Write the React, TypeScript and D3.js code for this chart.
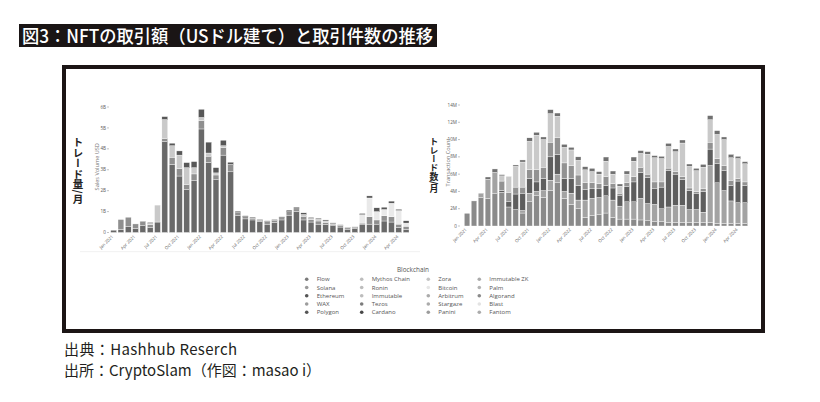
import React from "react";
import * as d3 from "d3";

// ---------- categories ----------
const MONTHS = [
  "2021-01","2021-02","2021-03","2021-04","2021-05","2021-06","2021-07","2021-08","2021-09","2021-10","2021-11","2021-12",
  "2022-01","2022-02","2022-03","2022-04","2022-05","2022-06","2022-07","2022-08","2022-09","2022-10","2022-11","2022-12",
  "2023-01","2023-02","2023-03","2023-04","2023-05","2023-06","2023-07","2023-08","2023-09","2023-10","2023-11","2023-12",
  "2024-01","2024-02","2024-03","2024-04","2024-05",
];
const X_TICKS = ["2021-01","2021-04","2021-07","2021-10","2022-01","2022-04","2022-07","2022-10","2023-01","2023-04","2023-07","2023-10","2024-01","2024-04"];
const X_TICK_LABELS = ["Jan 2021","Apr 2021","Jul 2021","Oct 2021","Jan 2022","Apr 2022","Jul 2022","Oct 2022","Jan 2023","Apr 2023","Jul 2023","Oct 2023","Jan 2024","Apr 2024"];

// ---------- left: sales volume (units of 100M USD) ----------
const VOL_TICKS = [0, 10, 20, 30, 40, 50, 60];
const VOL_KEYS = ["Ethereum", "Flow", "Ronin", "Bitcoin", "Polygon"];
const VOL_COLORS = ["#696969", "#8f8f8f", "#c9c9c9", "#e9e9e9", "#575757"];
const VOL_ETHEREUM = [1.1,1.5,3.0,2.0,3.5,2.3,5.0,43.5,32.5,27.0,20.5,25.0,49.5,33.5,25.2,37.0,29.0,8.0,6.5,6.0,5.2,4.0,4.8,6.0,8.3,10.0,6.0,5.0,4.0,3.8,3.2,2.6,1.6,1.8,4.0,4.0,4.0,5.5,5.0,2.5,1.5];
const VOL_FLOW = [0,4.7,4.3,2.1,1.9,1.5,0,1.5,3.5,3.5,2.5,3.0,4.0,3.0,2.3,3.5,3.5,1.5,1.0,0.8,0.6,1.2,1.0,1.0,1.6,1.3,1.8,1.2,1.5,1.0,0.8,0.6,0.6,0.6,0.5,3.5,2.0,2.5,2.5,1.5,1.5];
const VOL_RONIN = [0,0,0,0,0,0.5,8.1,9.0,5.5,6.5,8.0,3.0,1.5,1.5,1.0,1.0,0,0,0,0,0,0,0,0,0,0,0.8,0.5,0.8,0.7,0.2,0.2,0,0,0,0,0,0,0,0,0];
const VOL_BITCOIN = [0,0,0,0,0,0,0,0,0,0,0,0,0,0,0,0,0,0,0,0,0,0,0,0,0,0,0,0,0,0,0,0,0,0,4.0,9.0,4.0,3.0,6.5,6.5,1.5];
const VOL_POLYGON = [0,0,0,0,0,0.5,0,1.4,1.2,2.0,2.4,2.9,3.9,5.2,2.5,2.6,1.1,0.7,0.5,0.5,0.4,0.4,0.4,0.5,0.8,0.8,0.8,0.5,0.5,0.5,0.4,0.3,0.3,0.3,0.6,1.0,1.8,1.1,1.0,0.6,1.1];
const VOL_DATA = [VOL_ETHEREUM, VOL_FLOW, VOL_RONIN, VOL_BITCOIN, VOL_POLYGON];

// ---------- right: transaction count (millions) ----------
const TX_TICKS = [0, 2, 4, 6, 8, 10, 12, 14];
const TX_KEYS = ["WAX", "Immutable", "Polygon", "Solana", "Ronin", "Ethereum"];
const TX_COLORS = ["#8a8a8a", "#a3a3a3", "#5e5e5e", "#929292", "#c9c9c9", "#707070"];
const TX_WAX = [1.47,2.9,3.3,3.2,3.8,3.9,2.2,1.9,1.5,2.8,3.5,3.3,4.1,5.0,3.2,2.5,2.0,1.0,1.2,1.3,1.5,1.0,0.8,0.8,0.8,0.7,0.6,0.5,0.5,0.4,0.4,0.4,0.4,0.4,0.4,0.4,0.3,0.3,0.3,0.3,0.3];
const TX_IMMUTABLE = [0,0,0.5,2.2,2.4,0,0,0,0.3,1.0,0.5,0.8,1.2,1.0,0.8,1.3,1.0,2.0,2.0,2.0,2.0,2.0,1.5,2.0,2.0,2.5,2.0,2.0,1.5,1.8,2.0,2.0,1.5,1.5,1.2,6.6,4.7,3.8,2.6,2.4,2.4];
const TX_POLYGON = [0,0,0,0,0,0.2,0.6,1.8,2.0,1.7,1.1,1.4,2.7,2.3,1.5,1.7,1.7,1.2,1.1,1.0,1.2,1.4,1.2,1.8,2.3,3.0,3.0,1.8,2.5,4.2,3.6,3.0,2.2,1.9,2.4,1.9,2.2,2.3,1.8,2.5,2.0];
const TX_SOLANA = [0,0,0,0,0,1.1,1.1,0.8,0.7,1.0,1.4,1.3,1.7,1.9,1.8,1.5,1.2,0.8,0.7,0.6,1.0,0.5,0.3,0.4,0.6,0.6,0.4,0.8,0.6,0.3,0.3,0.3,0.3,0.2,0.3,0.8,0.6,0.6,0.6,0.3,0.4];
const TX_RONIN = [0,0,0,0,0,0.6,1.85,2.4,2.9,3.3,4.0,3.2,3.3,2.5,1.8,1.8,1.7,1.5,1.3,1.1,1.8,1.1,0.8,1.0,1.8,1.6,2.3,2.8,2.7,2.5,2.3,3.9,2.5,2.4,2.5,2.6,2.8,3.0,2.6,2.3,2.1];
const TX_ETHEREUM = [0,0,0,0.27,0.4,0.14,0,0.16,0.24,0.4,0.34,0.3,0.46,0.37,0.35,0.3,0.4,0.36,0.37,0.29,0.48,0.36,0.26,0.36,0.48,0.32,0.3,0.24,0.26,0.36,0.31,0.35,0.27,0.27,0.33,0.47,0.43,0.3,0.39,0.26,0.24];
const TX_DATA = [TX_WAX, TX_IMMUTABLE, TX_POLYGON, TX_SOLANA, TX_RONIN, TX_ETHEREUM];

// ---------- legend ----------
const LEGEND_NAMES = [
  "Flow","Solana","Ethereum","WAX","Polygon",
  "Mythos Chain","Ronin","Immutable","Tezos","Cardano",
  "Zora","Bitcoin","Arbitrum","Stargaze","Panini",
  "Immutable ZK","Palm","Algorand","Blast","Fantom",
];
const LEGEND_COLORS = [
  "#7a7a7a","#9a9a9a","#555555","#9c9c9c","#555555",
  "#bdbdbd","#bdbdbd","#bdbdbd","#7c7c7c","#474747",
  "#c4c4c4","#e6e6e6","#ababab","#ababab","#9c9c9c",
  "#ababab","#b3b3b3","#8a8a8a","#e3e3e3","#ababab",
];

const TITLE = "図3：NFTの取引額（USドル建て）と取引件数の推移";
const SOURCE1 = "出典：Hashhub Reserch";
const SOURCE2 = "出所：CryptoSlam（作図：masao i）";

const JP = "'Noto Sans CJK JP', 'Noto Sans', sans-serif";
const SANS = "'Open Sans', 'Noto Sans', sans-serif";

function StackedBars({ keys, data, colors, x, y }: any) {
  const rows = MONTHS.map((m, i) => {
    const r: any = { m };
    keys.forEach((k: string, j: number) => (r[k] = data[j][i]));
    return r;
  });
  const series = d3.stack<any>().keys(keys)(rows);
  return (
    <g>
      {series.map((layer, li) => (
        <g key={keys[li]} fill={colors[li]}>
          {layer.map((d: any) => {
            const h = y(d[0]) - y(d[1]);
            if (h <= 0.01) return null;
            return (
              <rect
                key={d.data.m}
                x={x(d.data.m)}
                y={y(d[1])}
                width={x.bandwidth()}
                height={h}
                stroke="#ffffff"
                strokeWidth={0.35}
              />
            );
          })}
        </g>
      ))}
    </g>
  );
}

function Axes({ x, y, ticks, fmt, labelX, tickY, title, titleX }: any) {
  const [y0, y1] = y.range();
  return (
    <g fontFamily={SANS} fill="#5a5a5a">
      {ticks.map((t: number) => (
        <g key={t}>
          <text x={labelX} y={y(t) + 1.6} fontSize={4.6} textAnchor="end">{fmt(t)}</text>
          <line x1={labelX + 1} x2={labelX + 3} y1={y(t)} y2={y(t)} stroke="#888" strokeWidth={0.5} />
        </g>
      ))}
      {X_TICKS.map((m, i) => (
        <text
          key={m}
          transform={`translate(${(x(m) as number) + x.bandwidth() / 2},${tickY}) rotate(-45)`}
          fontSize={4.4}
          textAnchor="end"
        >
          {X_TICK_LABELS[i]}
        </text>
      ))}
      <text
        transform={`translate(${titleX},${(y0 + y1) / 2 - 3}) rotate(-90)`}
        fontSize={5.6}
        textAnchor="middle"
        fill="#777"
      >
        {title}
      </text>
    </g>
  );
}

export default function App() {
  const xL = d3.scaleBand<string>().domain(MONTHS).range([110.7, 409]).paddingInner(0.2);
  const yL = d3.scaleLinear().domain([0, 60]).range([232.5, 107]);
  const xR = d3.scaleBand<string>().domain(MONTHS).range([464.3, 747.7]).paddingInner(0.2);
  const yR = d3.scaleLinear().domain([0, 14]).range([226, 105]);

  return (
    <svg
      width={820}
      height={402}
      viewBox="0 0 820 402"
      style={{ position: "absolute", left: 0, top: 0, background: "#fff" }}
    >
      <rect x={0} y={0} width={820} height={402} fill="#ffffff" />
      {/* title */}
      <rect x={19} y={24} width={418} height={23} fill="#1a1515" />
      <text
        x={22}
        y={42.5}
        fontFamily={JP}
        fontSize={18}
        fontWeight={500}
        fill="#ffffff"
        textLength={411}
        lengthAdjust="spacingAndGlyphs"
      >
        {TITLE}
      </text>

      {/* frame */}
      <rect x={64} y={67} width={699} height={264} fill="none" stroke="#1c1515" strokeWidth={4} />
      <line x1={80} x2={420} y1={251.7} y2={251.7} stroke="#f1f1f1" strokeWidth={1} />

      {/* left chart */}
      <StackedBars keys={VOL_KEYS} data={VOL_DATA} colors={VOL_COLORS} x={xL} y={yL} />
      <Axes
        x={xL}
        y={yL}
        ticks={VOL_TICKS}
        fmt={(t: number) => (t === 0 ? "0" : `${t / 10}B`)}
        labelX={106}
        tickY={237}
        title="Sales Volume USD"
        titleX={98.5}
      />
      <text
        x={78}
        y={137}
        fontFamily={JP}
        fontSize={10.5}
        fontWeight={700}
        fill="#222"
        style={{ writingMode: "vertical-rl" as any }}
      >
        トレード量/月
      </text>

      {/* right chart */}
      <StackedBars keys={TX_KEYS} data={TX_DATA} colors={TX_COLORS} x={xR} y={yR} />
      <Axes
        x={xR}
        y={yR}
        ticks={TX_TICKS}
        fmt={(t: number) => (t === 0 ? "0" : `${t}M`)}
        labelX={457}
        tickY={230}
        title="Transaction Count"
        titleX={450}
      />
      <text
        x={434}
        y={137}
        fontFamily={JP}
        fontSize={8.8}
        fontWeight={700}
        fill="#222"
        style={{ writingMode: "vertical-rl" as any }}
      >
        トレード数/月
      </text>

      {/* legend */}
      <g fontFamily={SANS} fontSize={6}>
        <text x={413} y={272} textAnchor="middle" fontSize={6.4} fill="#555555">Blockchain</text>
        {LEGEND_NAMES.map((n, i) => {
          const col = Math.floor(i / 5);
          const row = i % 5;
          const mx = [306.7, 361.7, 428.3, 479.3][col];
          const cy = 279.3 + row * 8.25;
          return (
            <g key={n}>
              <circle cx={mx} cy={cy} r={1.8} fill={LEGEND_COLORS[i]} />
              <text x={mx + 10} y={cy + 2} fill="#555555">{n}</text>
            </g>
          );
        })}
      </g>

      {/* sources */}
      <g fontFamily={JP} fontSize={15} fill="#231f20">
        <text x={64} y={354.5} textLength={173} lengthAdjust="spacing">{SOURCE1}</text>
        <text x={64} y={375.5}>{SOURCE2}</text>
      </g>
    </svg>
  );
}
